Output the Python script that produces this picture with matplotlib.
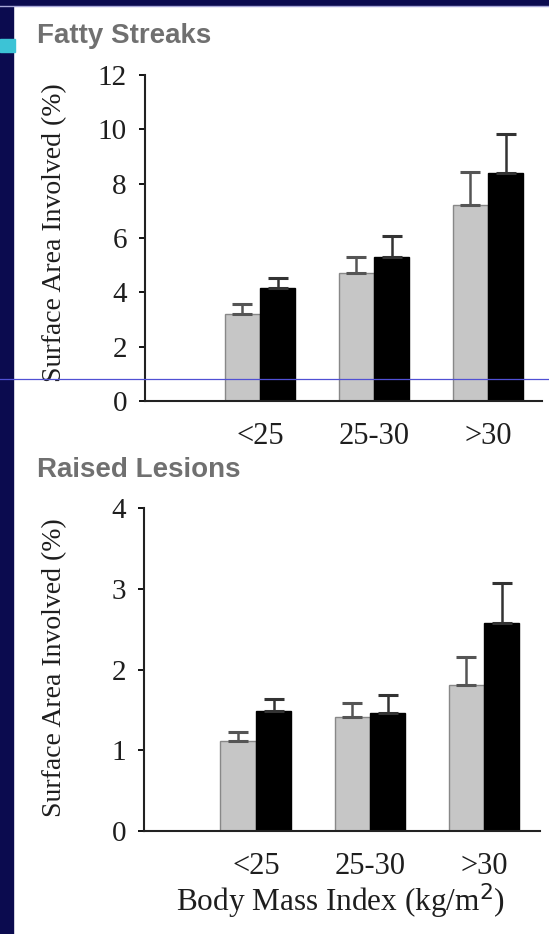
import numpy as np
import matplotlib.pyplot as plt
from matplotlib.lines import Line2D
from matplotlib.patches import Rectangle

# data
bmi_groups = ['<25', '25-30', '>30']

fatty_gray = [3.2, 4.71, 7.21]
fatty_gray_err = [0.37, 0.59, 1.22]
fatty_black = [4.16, 5.30, 8.39]
fatty_black_err = [0.37, 0.77, 1.44]

raised_gray = [1.11, 1.41, 1.81]
raised_gray_err = [0.12, 0.18, 0.35]
raised_black = [1.48, 1.46, 2.57]
raised_black_err = [0.16, 0.22, 0.50]

W, H = 549, 934
fig = plt.figure(figsize=(W / 100, H / 100), dpi=100)
fig.patch.set_facecolor('white')

serif = 'Liberation Serif'
sans = 'Liberation Sans'
navy = '#0b0b4f'
ink = '#1e1e1e'

# slide decoration
fig.patches.append(Rectangle((0, 0), 13 / W, 1, transform=fig.transFigure,
                             color=navy, zorder=0))
fig.patches.append(Rectangle((0, 1 - 5 / H), 1, 5 / H, transform=fig.transFigure,
                             color=navy, zorder=0))
fig.lines.append(Line2D([0, 1], [1 - 6 / H] * 2, transform=fig.transFigure,
                        color='#a8a8d8', lw=1))
fig.patches.append(Rectangle((0, 1 - 52 / H), 15 / W, 13 / H, transform=fig.transFigure,
                             color='#3cc3d6', zorder=1))


def bar_panel(ax, gray, gray_err, black, black_err, ymax, yticks, xlim):
    x = np.arange(len(bmi_groups))
    w = 0.31
    ax.bar(x - w / 2, gray, w, color='#c6c6c6', edgecolor='#888888', lw=1)
    ax.bar(x + w / 2, black, w, color='black', edgecolor='black', lw=1)
    ax.errorbar(x - w / 2, gray, yerr=[np.zeros(3), gray_err], fmt='none',
                ecolor='#555555', elinewidth=1.8, capsize=7, capthick=2.2)
    ax.errorbar(x + w / 2, black, yerr=[np.zeros(3), black_err], fmt='none',
                ecolor='#333333', elinewidth=1.8, capsize=7, capthick=2.2)
    ax.set_xlim(*xlim)
    ax.set_ylim(0, ymax)
    ax.set_yticks(yticks)
    ax.set_xticks(x)
    ax.set_xticklabels(bmi_groups)
    for s in ['top', 'right']:
        ax.spines[s].set_visible(False)
    for s in ['left', 'bottom']:
        ax.spines[s].set_linewidth(1.5)
        ax.spines[s].set_color('#222222')
    ax.tick_params(axis='y', length=4, width=1.3, pad=9, labelsize=21,
                   labelcolor=ink, direction='out')
    ax.tick_params(axis='x', length=0, pad=15, labelsize=22, labelcolor=ink)
    for t in ax.get_xticklabels() + ax.get_yticklabels():
        t.set_fontfamily(serif)


ax1 = fig.add_axes([145 / W, 1 - 401 / H, 397 / W, 326 / H])
bar_panel(ax1, fatty_gray, fatty_gray_err, fatty_black, fatty_black_err,
          12, [0, 2, 4, 6, 8, 10, 12], (-1.01, 2.474))

ax2 = fig.add_axes([144 / W, 1 - 831 / H, 396 / W, 323 / H])
bar_panel(ax2, raised_gray, raised_gray_err, raised_black, raised_black_err,
          4, [0, 1, 2, 3, 4], (-0.98, 2.49))

# y labels
fig.text(55 / W, 1 - 233 / H, 'Surface Area Involved (%)', rotation=90,
         ha='center', va='center', fontsize=20, family=serif, color=ink)
fig.text(55 / W, 1 - 668 / H, 'Surface Area Involved (%)', rotation=90,
         ha='center', va='center', fontsize=20, family=serif, color=ink)

# panel titles
fig.text(37 / W, 1 - 43 / H, 'Fatty Streaks', fontsize=20, fontweight='bold',
         family=sans, color='#707070', ha='left', va='baseline')
fig.text(37 / W, 1 - 477 / H, 'Raised Lesions', fontsize=20, fontweight='bold',
         family=sans, color='#707070', ha='left', va='baseline')

fig.text(341 / W, 1 - 911 / H, 'Body Mass Index (kg/m$^2$)', fontsize=22.5,
         family=serif, color=ink, ha='center', va='baseline')

# thin blue line across slide
fig.lines.append(Line2D([0, 1], [1 - 379 / H] * 2, transform=fig.transFigure,
                        color='#5050d4', lw=0.9, zorder=10))

fig.savefig('out.png', dpi=100)
